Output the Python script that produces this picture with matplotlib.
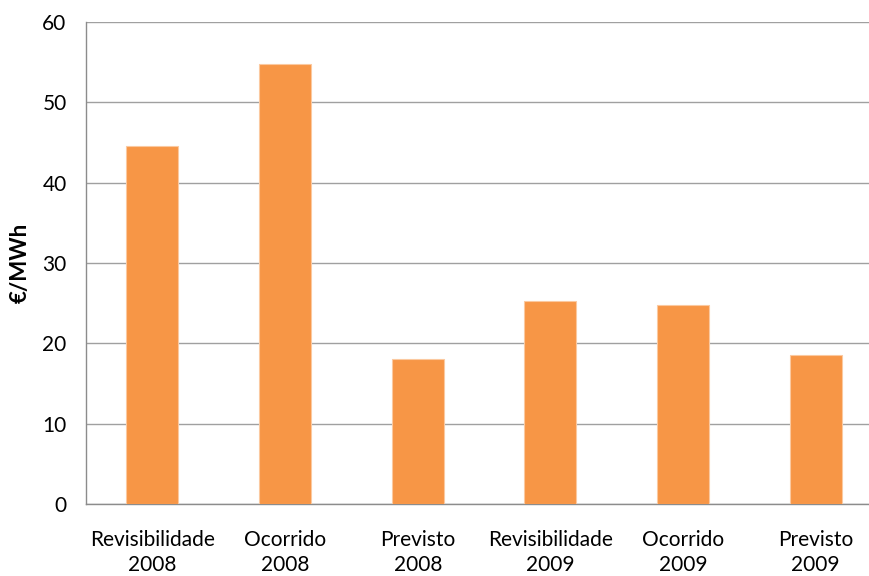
import matplotlib
matplotlib.use('Agg')
import matplotlib.pyplot as plt

categories = ['Revisibilidade\n2008', 'Ocorrido\n2008', 'Previsto\n2008',
              'Revisibilidade\n2009', 'Ocorrido\n2009', 'Previsto\n2009']
values = [44.5, 54.7, 18.0, 25.3, 24.8, 18.5]
yticks = [0, 10, 20, 30, 40, 50, 60]

plt.rcParams['font.family'] = ['Lato', 'DejaVu Sans']

fig = plt.figure(figsize=(8.69, 5.76), dpi=100)
# the plot area runs past the right edge of the picture, as in the original
ax = fig.add_axes([0.099, 0.125, 0.916, 0.837])

x = list(range(len(categories)))
ax.bar(x, values, width=0.39, color='#F79646', edgecolor='#FBC9A0', linewidth=0.8, zorder=3)

ax.set_xlim(-0.5, len(categories) - 0.5)
ax.set_ylim(0, 60)
ax.set_yticks(yticks)
ax.set_xticks(x)
ax.set_xticklabels(categories, fontsize=15, linespacing=1.3)
ax.tick_params(axis='y', labelsize=15, length=0, pad=14)
ax.tick_params(axis='x', length=0, pad=19)
ax.yaxis.grid(True, color='#A0A0A0', linewidth=1, zorder=0)

for s in ['top', 'right']:
    ax.spines[s].set_visible(False)
for s in ['left', 'bottom']:
    ax.spines[s].set_color('#8C8C8C')
    ax.spines[s].set_linewidth(1)

ax.set_ylabel('€/MWh', fontsize=16, fontweight='bold', labelpad=8)

fig.savefig('out.png', dpi=100)
